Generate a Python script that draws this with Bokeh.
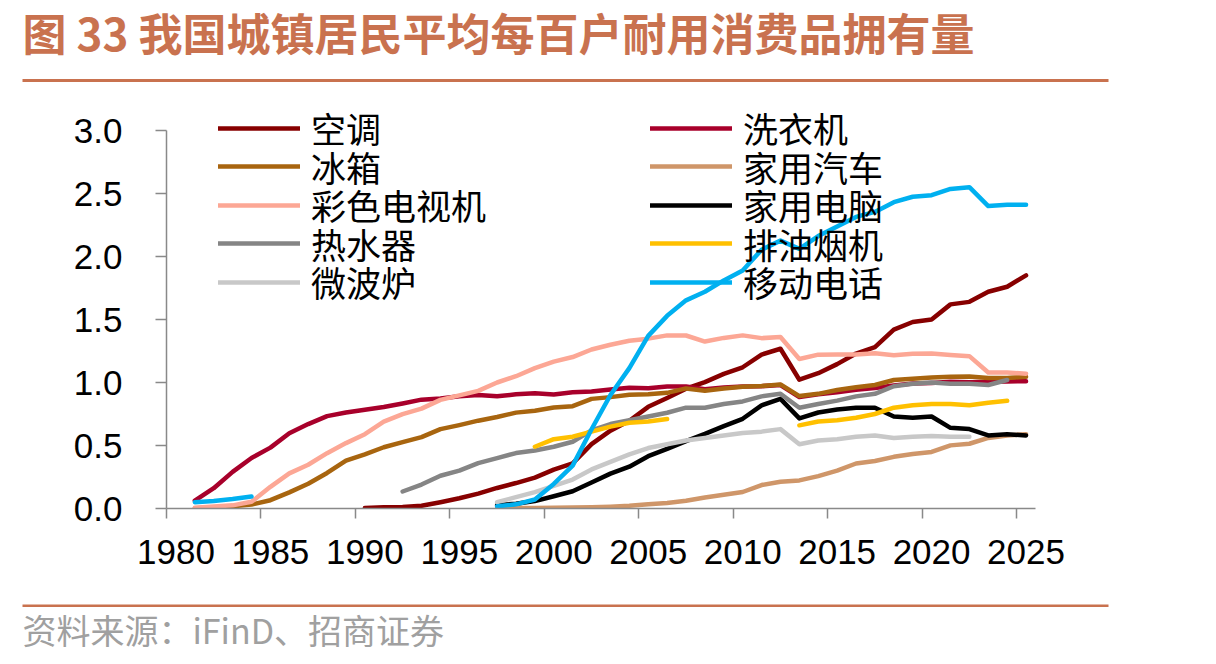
from bokeh.plotting import figure
from bokeh.layouts import column
from bokeh.models import (Range1d, FixedTicker, PrintfTickFormatter, Legend,
                          LegendItem, Label, BoxAnnotation)
from bokeh.embed import file_html
from bokeh.resources import INLINE

N = float("nan")

YEARS = list(range(1980, 2026))
X_TICK_LABELS = [1980, 1985, 1990, 1995, 2000, 2005, 2010, 2015, 2020, 2025]
Y_TICKS = [0.0, 0.5, 1.0, 1.5, 2.0, 2.5, 3.0]

TITLE = "图 33 我国城镇居民平均每百户耐用消费品拥有量"
SOURCE = "资料来源：iFinD、招商证券"

# values per 100 households / 100, aligned with YEARS (1980..2025)
air_conditioner = [N, N, N, N, N, N, N, N, N, N,
                   0.003, 0.009, 0.012, 0.022, 0.050, 0.081, 0.118, 0.163, 0.202, 0.245,
                   0.308, 0.358, 0.511, 0.618, 0.696, 0.807, 0.877, 0.951, 1.003, 1.068,
                   1.121, 1.222, 1.268, 1.022, 1.074, 1.146, 1.230, 1.280, 1.420, 1.480,
                   1.500, 1.620, 1.640, 1.720, 1.760, 1.850]
washer = [N,
          0.063, 0.161, 0.291, 0.401, 0.483, 0.597, 0.670, 0.733, 0.762, 0.784,
          0.806, 0.834, 0.864, 0.873, 0.890, 0.901, 0.891, 0.906, 0.914, 0.905,
          0.922, 0.929, 0.944, 0.959, 0.955, 0.968, 0.968, 0.947, 0.960, 0.969,
          0.971, 0.980, 0.884, 0.907, 0.923, 0.942, 0.957, 0.977, 0.992, 0.997,
          1.005, 1.002, 1.005, 1.008, 1.010]
fridge = [N,
          0.002, 0.007, 0.017, 0.031, 0.066, 0.128, 0.197, 0.282, 0.380, 0.430,
          0.486, 0.527, 0.567, 0.630, 0.662, 0.697, 0.726, 0.761, 0.776, 0.801,
          0.812, 0.870, 0.884, 0.902, 0.907, 0.918, 0.953, 0.934, 0.953, 0.966,
          0.972, 0.985, 0.892, 0.910, 0.940, 0.962, 0.980, 1.020, 1.030, 1.040,
          1.045, 1.048, 1.035, 1.035, 1.045]
car = [N, N, N, N, N, N, N, N, N, N, N, N, N, N, N, N, N,
       0.002, 0.003, 0.0034, 0.005,
       0.007, 0.009, 0.014, 0.022, 0.034, 0.044, 0.061, 0.088, 0.109, 0.131,
       0.186, 0.213, 0.223, 0.257, 0.300, 0.357, 0.377, 0.410, 0.432, 0.449,
       0.501, 0.514, 0.560, 0.580, 0.590]
color_tv = [N,
            0.006, 0.016, 0.025, 0.053, 0.172, 0.279, 0.347, 0.439, 0.519, 0.590,
            0.689, 0.749, 0.793, 0.862, 0.898, 0.934, 1.000, 1.050, 1.114, 1.166,
            1.202, 1.262, 1.300, 1.331, 1.348, 1.374, 1.373, 1.325, 1.354, 1.374,
            1.352, 1.361, 1.186, 1.221, 1.223, 1.223, 1.232, 1.216, 1.228, 1.230,
            1.218, 1.209, 1.080, 1.080, 1.070]
computer = [N, N, N, N, N, N, N, N, N, N, N, N, N, N, N, N, N,
            0.026, 0.038, 0.059, 0.097,
            0.137, 0.206, 0.277, 0.332, 0.415, 0.473, 0.535, 0.592, 0.654, 0.712,
            0.819, 0.870, 0.715, 0.762, 0.785, 0.800, 0.800, 0.730, 0.720, 0.730,
            0.640, 0.630, 0.580, 0.590, 0.580]
water_heater = [N, N, N, N, N, N, N, N, N, N, N, N,
                0.135, 0.190, 0.260, 0.300, 0.360, 0.400, 0.440, 0.460, 0.490,
                0.530, 0.620, 0.670, 0.700, 0.730, 0.760, 0.800, 0.800, 0.830, 0.850,
                0.890, 0.910, 0.800, 0.830, 0.856, 0.890, 0.910, 0.970, 0.990, 1.000,
                0.990, 0.990, 0.980, 1.020, N]
range_hood = [N, N, N, N, N, N, N, N, N, N, N, N, N, N, N, N, N, N, N,
              0.490, 0.550,
              0.570, 0.610, 0.650, 0.680, 0.690, 0.710, N, N, N, N,
              N, N, 0.660, 0.690, 0.700, 0.720, 0.750, 0.800, 0.820, 0.830,
              0.830, 0.820, 0.840, 0.855, N]
microwave = [N, N, N, N, N, N, N, N, N, N, N, N, N, N, N, N, N,
             0.050, 0.090, 0.130, 0.180,
             0.230, 0.310, 0.370, 0.430, 0.480, 0.510, 0.540, 0.560, 0.580, 0.600,
             0.610, 0.630, 0.510, 0.540, 0.550, 0.570, 0.580, 0.560, 0.570, 0.575,
             0.570, 0.570, N, N, N]
mobile = [N,
          0.050, 0.060, 0.075, 0.095, N, N, N, N, N, N,
          N, N, N, N, N, N, 0.017, 0.033, 0.071, 0.195,
          0.340, 0.629, 0.901, 1.114, 1.370, 1.529, 1.652, 1.720, 1.810, 1.889,
          2.053, 2.126, 2.061, 2.162, 2.238, 2.314, 2.354, 2.431, 2.474, 2.487,
          2.536, 2.550, 2.400, 2.410, 2.410]

SERIES = [
    ("空调", air_conditioner, "#870000"),
    ("洗衣机", washer, "#A8002B"),
    ("冰箱", fridge, "#A8650F"),
    ("家用汽车", car, "#CF9669"),
    ("彩色电视机", color_tv, "#FCA795"),
    ("家用电脑", computer, "#000000"),
    ("热水器", water_heater, "#858585"),
    ("排油烟机", range_hood, "#FFC000"),
    ("微波炉", microwave, "#C8C8C8"),
    ("移动电话", mobile, "#00B0F0"),
]
# legend grid: rows of (left column, right column)
LEGEND_ROWS = [("空调", "洗衣机"), ("冰箱", "家用汽车"), ("彩色电视机", "家用电脑"),
               ("热水器", "排油烟机"), ("微波炉", "移动电话")]

ACCENT = "#C9724F"
AXIS_GRAY = "#898989"
LATIN = "Liberation Sans"
CJK = "Noto Sans CJK SC"

W = 1216
TOP_H = 100
MAIN_H = 500
BOT_H = 64


def bare_figure(h):
    f = figure(width=W, height=h, output_backend="svg", toolbar_location=None,
               x_range=Range1d(0, W), y_range=Range1d(h, 0),
               x_axis_location=None, y_axis_location=None,
               min_border=0, min_border_left=0, min_border_right=0,
               min_border_top=0, min_border_bottom=0, frame_align=False)
    f.outline_line_color = None
    f.xgrid.visible = False
    f.ygrid.visible = False
    f.background_fill_color = "white"
    f.border_fill_color = "white"
    return f


# ---- header: title + rule
top = bare_figure(TOP_H)
top.add_layout(Label(x=22, y=31, text=TITLE, text_font=CJK, text_font_size="44px",
                     text_font_style="bold", text_color=ACCENT,
                     text_baseline="middle", text_align="left"))
top.add_layout(BoxAnnotation(left=22, right=1108, top=78.5, bottom=81.5,
                             fill_color=ACCENT, fill_alpha=1, line_color=None))

# ---- main chart (frame extends above 3.0 to hold the legend)
Y_TOP = 3.0 * 408 / 378
p = figure(width=W, height=MAIN_H, output_backend="svg", toolbar_location=None,
           x_range=Range1d(1979.5, 2025.5), y_range=Range1d(0, Y_TOP),
           min_border_left=166, min_border_right=181,
           min_border_top=0, min_border_bottom=92, frame_align=False)
p.outline_line_color = None
p.xgrid.visible = False
p.ygrid.visible = False
p.background_fill_color = "white"
p.border_fill_color = "white"

renderers = {}
for name, vals, color in SERIES:
    renderers[name] = p.line(YEARS, vals, line_color=color, line_width=4.5,
                             line_join="round", line_cap="round")

ya = p.yaxis[0]
ya.bounds = (0, 3)
ya.ticker = FixedTicker(ticks=Y_TICKS, minor_ticks=[])
ya.formatter = PrintfTickFormatter(format="%.1f")
ya.axis_line_color = AXIS_GRAY
ya.axis_line_width = 1.5
ya.major_tick_line_color = AXIS_GRAY
ya.major_tick_line_width = 1.5
ya.major_tick_out = 11
ya.major_tick_in = 0
ya.minor_tick_out = 0
ya.minor_tick_in = 0
ya.major_label_standoff = 33
ya.major_label_text_font = LATIN
ya.major_label_text_font_size = "35px"
ya.major_label_text_color = "black"

xa = p.xaxis[0]
tick_marks = [t - 0.5 for t in X_TICK_LABELS]
xa.ticker = FixedTicker(ticks=X_TICK_LABELS, minor_ticks=tick_marks)
xa.axis_line_color = AXIS_GRAY
xa.axis_line_width = 1.5
xa.major_tick_out = 0
xa.major_tick_in = 0
xa.minor_tick_line_color = AXIS_GRAY
xa.minor_tick_line_width = 1.5
xa.minor_tick_out = 10
xa.minor_tick_in = 0
xa.major_label_standoff = 21
xa.major_label_text_font = LATIN
xa.major_label_text_font_size = "35px"
xa.major_label_text_color = "black"

# ---- legend: one single-entry legend per cell so the rows sit 38.5 px apart
LEGEND_PX = 35
ITEM_H = 1.456 * LEGEND_PX          # height the legend measures for one entry
FIRST_ROW_Y = 128                   # canvas y of the first row centre
ROW_PITCH = 38.5
COL_X = (52, 484)                   # line start, relative to the frame's left edge
FRAME_BOTTOM = 508                  # canvas y of the x axis

for r, row in enumerate(LEGEND_ROWS):
    centre = FIRST_ROW_Y + r * ROW_PITCH
    y_loc = FRAME_BOTTOM - (centre + ITEM_H / 2)
    for c, name in enumerate(row):
        leg = Legend(items=[LegendItem(label=name, renderers=[renderers[name]])],
                     orientation="vertical", location=(COL_X[c], y_loc))
        leg.label_text_font = CJK
        leg.label_text_font_size = "%dpx" % LEGEND_PX
        leg.label_text_color = "black"
        leg.glyph_width = 82
        leg.glyph_height = 30
        leg.label_height = 30
        leg.label_standoff = 11
        leg.spacing = 0
        leg.padding = 0
        leg.margin = 0
        leg.border_line_color = None
        leg.background_fill_alpha = 0
        p.add_layout(leg, "center")

# ---- footer: rule + source
bot = bare_figure(BOT_H)
bot.add_layout(BoxAnnotation(left=22, right=1108, top=4, bottom=6.5,
                             fill_color=ACCENT, fill_alpha=1, line_color=None))
bot.add_layout(Label(x=22, y=29, text=SOURCE, text_font=CJK, text_font_size="34px",
                     text_color="#A0A0A0", text_baseline="middle", text_align="left"))

layout = column(top, p, bot, spacing=0)
open("out.html", "w").write(file_html(layout, INLINE))
